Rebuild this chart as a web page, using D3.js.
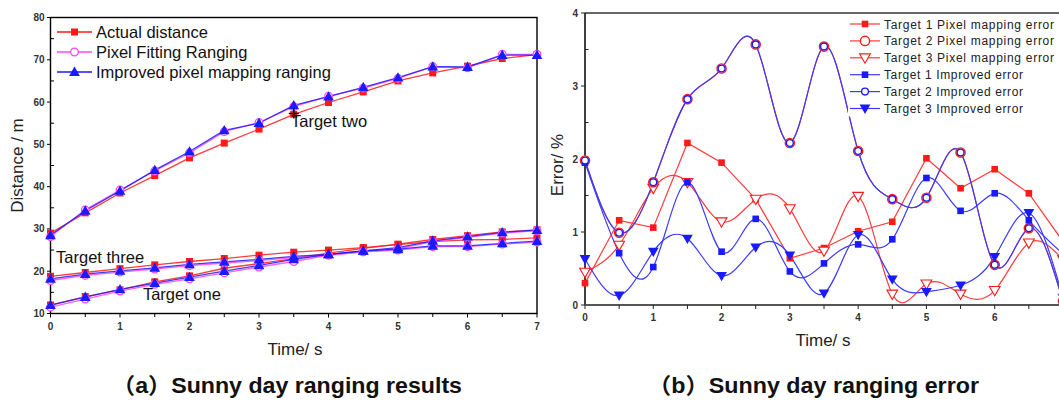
<!DOCTYPE html>
<html><head><meta charset="utf-8">
<script src="https://cdn.jsdelivr.net/npm/d3@7"></script>
<style>body{margin:0;background:#fff;} svg{display:block;font-family:Arial,"Liberation Sans",sans-serif;}</style>
</head><body><svg id="c" width="1059" height="401"></svg>
<script>
// ---------- data ----------
const times = [0,0.5,1,1.5,2,2.5,3,3.5,4,4.5,5,5.5,6,6.5,7];
// (a) distance, m
const twoActual   = [29.0,33.8,38.5,42.6,46.8,50.3,53.6,57.1,59.9,62.4,65.0,66.9,68.5,70.3,71.2];
const twoFitting  = [28.2,34.5,39.2,43.7,48.0,53.0,55.2,58.9,61.4,63.3,65.6,68.4,68.1,71.3,71.3];
const twoImproved = [28.5,34.3,39.0,43.9,48.3,53.3,55.0,59.2,61.3,63.5,65.8,68.4,68.3,71.1,71.1];
const threeActual   = [18.8,19.7,20.6,21.5,22.3,23.0,23.8,24.5,25.0,25.6,26.3,27.0,27.4,27.5,27.9];
const threeFitting  = [17.8,19.0,19.8,20.5,21.3,21.9,22.5,23.2,23.8,24.6,25.0,25.8,25.8,26.4,26.9];
const threeImproved = [18.2,19.3,20.1,20.8,21.6,22.2,22.8,23.5,24.0,24.8,25.2,26.0,26.0,26.6,27.1];
const oneActual   = [12.0,14.0,15.6,17.5,18.9,20.7,21.8,23.0,24.3,25.4,26.4,27.5,28.4,29.3,29.8];
const oneFitting  = [11.5,13.4,15.3,16.9,18.2,19.6,21.0,22.3,23.8,24.6,25.3,27.0,28.0,29.0,29.6];
const oneImproved = [12.0,13.9,15.7,17.2,18.6,20.0,21.4,22.8,24.0,24.8,25.6,27.2,28.2,29.2,29.7];
const legendA = ["Actual distance","Pixel Fitting Ranging","Improved pixel mapping ranging"];
// annotation text anchored at [time, distance] of its baseline start
const notesA = [["Target two",3.46,54.1],["Target three",0.08,21.9],["Target one",1.33,13.2]];
const pointerA = [3.5,57.3];
const xTicksA = [0,1,2,3,4,5,6,7];
const yTicksA = [10,20,30,40,50,60,70,80];
// (b) error, %
const t1Pixel    = [0.30,1.16,1.06,2.22,1.95,1.45,0.64,0.78,1.01,1.14,2.01,1.60,1.86,1.53,0.87];
const t2Pixel    = [1.98,0.99,1.68,2.82,3.24,3.57,2.22,3.54,2.11,1.45,1.47,2.09,0.55,1.05,0.05];
const t3Pixel    = [0.45,0.82,1.60,1.68,1.14,1.45,1.32,0.74,1.49,0.15,0.29,0.15,0.20,0.85,0.62];
const t1Improved = [1.95,0.71,0.52,1.68,0.73,1.18,0.46,0.57,0.83,0.90,1.74,1.29,1.53,1.16,0.70];
const t2Improved = [1.98,0.99,1.68,2.82,3.24,3.57,2.22,3.54,2.11,1.45,1.47,2.09,0.55,1.05,0.05];
const t3Improved = [0.63,0.13,0.73,0.91,0.40,0.79,0.68,0.16,0.96,0.35,0.18,0.27,0.66,1.26,0.10];
const legendB = ["Target 1 Pixel mapping  error","Target 2 Pixel mapping  error","Target 3 Pixel mapping  error",
                 "Target 1 Improved error","Target 2 Improved error","Target 3 Improved error"];
const xTicksB = [0,1,2,3,4,5,6];
const yTicksB = [0,1,2,3,4];

// ---------- drawing ----------
const svg = d3.select("#c");
const RED="#ff1a1a", MAG="#ff44ff", BLUE="#1a1aff";
const zip = v => times.map((t,i)=>[t,v[i]]);

function marker(g, type, x, y, color){
  if(type==="square") g.append("rect").attr("x",x-3.5).attr("y",y-3.5).attr("width",7).attr("height",7).attr("fill",color);
  else if(type==="circle") g.append("circle").attr("cx",x).attr("cy",y).attr("r",3.8).attr("fill","#fff").attr("stroke",color).attr("stroke-width",1.3);
  else if(type==="tri") g.append("path").attr("d",d3.symbol(d3.symbolTriangle,50)()).attr("transform",`translate(${x},${y+0.8})`).attr("fill",color);
  else if(type==="sq2") g.append("rect").attr("x",x-3.3).attr("y",y-3.3).attr("width",6.6).attr("height",6.6).attr("fill",color);
  else if(type==="ring") g.append("circle").attr("cx",x).attr("cy",y).attr("r",4.6).attr("fill","#fff").attr("stroke",color).attr("stroke-width",1.4);
  else if(type==="ringS") g.append("circle").attr("cx",x).attr("cy",y).attr("r",3.4).attr("fill","#fff").attr("stroke",color).attr("stroke-width",1.3);
  else if(type==="dtriO") g.append("path").attr("d",d3.symbol(d3.symbolTriangle,50)()).attr("transform",`translate(${x},${y-0.8}) rotate(180)`).attr("fill","#fff").attr("stroke",color).attr("stroke-width",1.1);
  else if(type==="dtri") g.append("path").attr("d",d3.symbol(d3.symbolTriangle,50)()).attr("transform",`translate(${x},${y-0.8}) rotate(180)`).attr("fill",color);
}

// ===== chart (a) =====
const xA = d3.scaleLinear([0,7],[50.5,537]);
const yA = d3.scaleLinear([10,80],[313.5,17.5]);
const gA = svg.append("g");
gA.append("rect").attr("x",xA(0)).attr("y",yA(80)).attr("width",xA(7)-xA(0)).attr("height",yA(10)-yA(80))
  .attr("fill","none").attr("stroke","#000").attr("stroke-width",1.4);
d3.range(0,7.01,0.5).forEach(v=>{
  gA.append("line").attr("x1",xA(v)).attr("x2",xA(v)).attr("y1",yA(10)).attr("y2",yA(10)+(Number.isInteger(v)?4:3.5)).attr("stroke","#000");
});
d3.range(10,80.01,5).forEach(v=>{
  const maj = v%10===0;
  gA.append("line").attr("x1",xA(0)).attr("x2",xA(0)+(maj?-3.5:3.5)).attr("y1",yA(v)).attr("y2",yA(v)).attr("stroke","#000");
});
xTicksA.forEach(v=>gA.append("text").attr("x",xA(v)).attr("y",yA(10)+16).attr("text-anchor","middle")
  .attr("font-size",10).attr("font-weight","bold").attr("fill","#333").text(v));
yTicksA.forEach(v=>gA.append("text").attr("x",xA(0)-6).attr("y",yA(v)+3.5).attr("text-anchor","end")
  .attr("font-size",10).attr("font-weight","bold").attr("fill","#333").text(v));
gA.append("text").attr("transform",`translate(23,${(yA(10)+yA(80))/2}) rotate(-90)`).attr("text-anchor","middle")
  .attr("font-size",17).attr("fill","#222").text("Distance / m");
gA.append("text").attr("x",295).attr("y",355).attr("text-anchor","middle").attr("font-size",17).attr("fill","#222").text("Time/ s");

const lineA = d3.line().x(d=>xA(d[0])).y(d=>yA(d[1]));
const seriesA = [
  [twoActual,RED,"square"],[threeActual,RED,"square"],[oneActual,RED,"square"],
  [twoFitting,MAG,"circle"],[threeFitting,MAG,"circle"],[oneFitting,MAG,"circle"],
  [twoImproved,BLUE,"tri"],[threeImproved,BLUE,"tri"],[oneImproved,BLUE,"tri"]
];
seriesA.forEach(([v,c])=>gA.append("path").attr("d",lineA(zip(v))).attr("fill","none").attr("stroke",c).attr("stroke-width",1.3).attr("stroke-opacity",0.85));
seriesA.forEach(([v,c,m])=>zip(v).forEach(d=>marker(gA,m,xA(d[0]),yA(d[1]),c)));
notesA.forEach(([txt,t,v])=>gA.append("text").attr("x",xA(t)).attr("y",yA(v))
  .attr("font-size",16.5).attr("fill","#111").text(txt));
gA.append("path").attr("d",`M${xA(pointerA[0])-5},${yA(pointerA[1])}h10M${xA(pointerA[0])},${yA(pointerA[1])-5}v10`).attr("stroke","#000").attr("stroke-width",1.5);
const legTypes = [[RED,"square"],[MAG,"circle"],[BLUE,"tri"]];
legendA.forEach((s,i)=>{
  const y = 32 + i*20;
  gA.append("line").attr("x1",57).attr("x2",92).attr("y1",y).attr("y2",y).attr("stroke",legTypes[i][0]).attr("stroke-width",1.3);
  marker(gA,legTypes[i][1],74.5,y,legTypes[i][0]);
  gA.append("text").attr("x",96).attr("y",y+6).attr("font-size",16.5).attr("fill","#111").text(s);
});

// ===== chart (b) =====
const xB = d3.scaleLinear([0,7],[585,1063]);
const yB = d3.scaleLinear([0,4],[305,13]);
const gB = svg.append("g");
gB.append("line").attr("x1",xB(0)).attr("x2",1060).attr("y1",yB(4)).attr("y2",yB(4)).attr("stroke","#333").attr("stroke-width",1.4);
gB.append("line").attr("x1",xB(0)).attr("x2",xB(0)).attr("y1",yB(4)).attr("y2",yB(0)).attr("stroke","#111").attr("stroke-width",1.6);
gB.append("line").attr("x1",xB(0)).attr("x2",1060).attr("y1",yB(0)).attr("y2",yB(0)).attr("stroke","#555").attr("stroke-width",1.8);
d3.range(0,7.01,0.5).forEach(v=>{
  gB.append("line").attr("x1",xB(v)).attr("x2",xB(v)).attr("y1",yB(0)).attr("y2",yB(0)+4).attr("stroke","#222");
});
d3.range(0,4.01,0.5).forEach(v=>{
  const maj = Number.isInteger(v);
  gB.append("line").attr("x1",xB(0)).attr("x2",xB(0)+(maj?-4:3.5)).attr("y1",yB(v)).attr("y2",yB(v)).attr("stroke","#222");
});
xTicksB.forEach(v=>gB.append("text").attr("x",xB(v)).attr("y",yB(0)+16).attr("text-anchor","middle")
  .attr("font-size",10).attr("font-weight","bold").attr("fill","#333").text(v));
yTicksB.forEach(v=>gB.append("text").attr("x",xB(0)-7).attr("y",yB(v)+3.5).attr("text-anchor","end")
  .attr("font-size",10).attr("font-weight","bold").attr("fill","#333").text(v));
gB.append("text").attr("transform",`translate(563,165) rotate(-90)`).attr("text-anchor","middle")
  .attr("font-size",17).attr("fill","#222").text("Error/ %");
gB.append("text").attr("x",823).attr("y",346).attr("text-anchor","middle").attr("font-size",17).attr("fill","#222").text("Time/ s");

const curveLine = d3.line().x(d=>xB(d[0])).y(d=>yB(d[1])).curve(d3.curveNatural);
const straight = d3.line().x(d=>xB(d[0])).y(d=>yB(d[1]));
const LR="#ff3b3b", LB="#3b3bff";
const seriesB = [
  [t1Pixel,RED,LR,"sq2",straight],
  [t3Pixel,RED,LR,"dtriO",curveLine],
  [t2Pixel,RED,LR,"ring",curveLine],
  [t1Improved,BLUE,LB,"sq2",curveLine],
  [t3Improved,BLUE,LB,"dtri",curveLine],
  [t2Improved,BLUE,LB,"ringS",curveLine]
];
seriesB.forEach(([v,c,lc,m,gen])=>gB.append("path").attr("d",gen(zip(v))).attr("fill","none").attr("stroke",lc).attr("stroke-width",1.2));
seriesB.forEach(([v,c,lc,m])=>zip(v).forEach(d=>marker(gB,m,xB(d[0]),yB(d[1]),c)));
const legB = [[RED,LR,"sq2"],[RED,LR,"ring"],[RED,LR,"dtriO"],[BLUE,LB,"sq2"],[BLUE,LB,"ringS"],[BLUE,LB,"dtri"]];
legendB.forEach((s,i)=>{
  const y = 24 + i*16.9;
  gB.append("rect").attr("x",848).attr("y",y-8).attr("width",210).attr("height",16).attr("fill","#fff");
  gB.append("line").attr("x1",850).attr("x2",880).attr("y1",y).attr("y2",y).attr("stroke",legB[i][1]).attr("stroke-width",1.2);
  marker(gB,legB[i][2],865,y,legB[i][0]);
  gB.append("text").attr("x",884).attr("y",y+4.5).attr("font-size",12).attr("fill","#222")
    .attr("textLength", i<3?170:139).attr("lengthAdjust","spacing").text(s);
});

// captions
const capFont = '"Liberation Sans Narrow","Liberation Sans",Arial,"Noto Sans CJK SC",sans-serif';
svg.append("text").attr("x",112).attr("y",393).attr("font-family",capFont).attr("font-weight","bold")
  .attr("font-size",22).attr("fill","#111").attr("textLength",350).attr("lengthAdjust","spacingAndGlyphs")
  .text("（a）Sunny day ranging results");
svg.append("text").attr("x",648).attr("y",393).attr("font-family",capFont).attr("font-weight","bold")
  .attr("font-size",22).attr("fill","#111").attr("textLength",331).attr("lengthAdjust","spacingAndGlyphs")
  .text("（b）Sunny day ranging error");
</script></body></html>
